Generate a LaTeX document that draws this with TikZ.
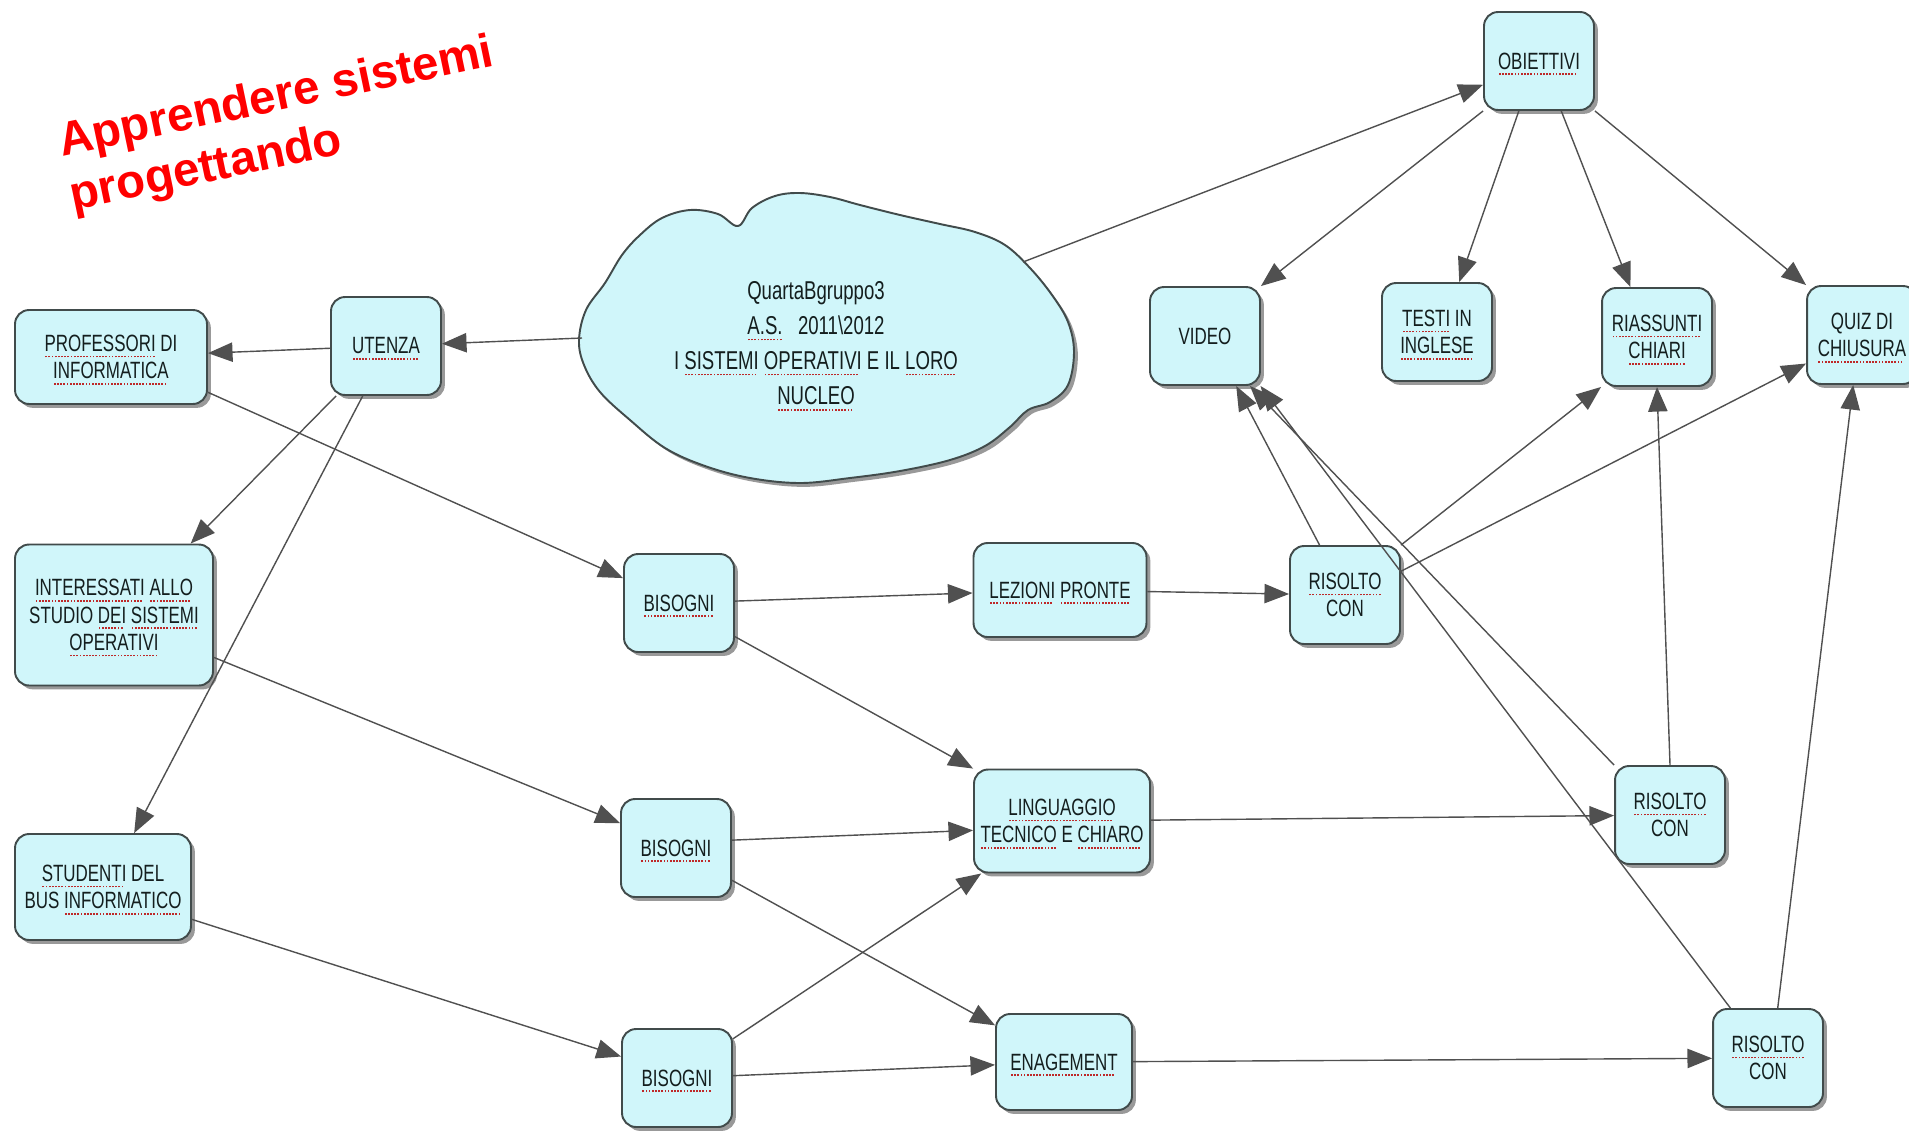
\documentclass[tikz,border=0pt]{standalone}
\usepackage{fontspec}
\usepackage{xcolor}
\usetikzlibrary{arrows.meta, shadows}

\newfontfamily\narrowfont[FakeStretch=0.72]{Liberation Sans}
\newfontfamily\titlefont{Liberation Sans}

\definecolor{boxfill}{RGB}{208,246,250}
\definecolor{boxline}{RGB}{65,75,75}
\definecolor{linegray}{RGB}{80,80,80}
\definecolor{txtgray}{RGB}{20,30,30}
\definecolor{spellred}{RGB}{190,40,40}

% parola sottolineata a puntini rossi
\newcommand{\squig}[1]{\setbox0=\hbox{#1}\rlap{\copy0}\smash{\raisebox{-3.4pt}{\textcolor{spellred}{\leaders\hbox to 1.8pt{\hss\rule{1pt}{1pt}\hss}\hskip\wd0}}}}

\begin{document}
\begin{tikzpicture}[x=0.02cm, y=-0.02cm,
    box/.style={rectangle, rounded corners=8pt, draw=boxline, line width=1.1pt, fill=boxfill,
        drop shadow={shadow xshift=2.2pt, shadow yshift=-2.2pt, fill=gray!80, opacity=1},
        minimum width=2.2cm, minimum height=1.96cm, align=center, inner sep=2pt,
        text=txtgray, font=\narrowfont\fontsize{13.4}{15.5}\selectfont},
    link/.style={draw=linegray, line width=0.8pt, -{Triangle[length=14pt, width=11pt]}}]
    \path[use as bounding box, clip] (0,0) rectangle (1909,1130);

    % 1. Titolo
    \node[text=red, rotate=11.8, align=left, inner sep=0pt,
        font=\titlefont\bfseries\fontsize{27}{31.6}\selectfont] (titolo) at (282,126)
        {Apprendere sistemi\\progettando};

    % 2. Nuvola centrale
    \draw[draw=boxline, line width=1.1pt, fill=boxfill,
        drop shadow={shadow xshift=2.2pt, shadow yshift=-2.2pt, fill=gray!80, opacity=1}]
        plot[smooth cycle, tension=0.6] coordinates {
        (579,340) (586,310) (605,283) (622,255) (640,235) (662,218) (690,210) (718,214)
        (738,226) (752,208) (775,196) (800,193) (830,197) (860,205) (900,215) (940,224)
        (975,232) (1005,245) (1030,268) (1052,295) (1068,322) (1074,352) (1068,385)
        (1050,402) (1028,410) (1010,427) (985,446) (950,460) (900,471) (850,478)
        (800,483) (750,478) (705,466) (665,448) (630,420) (600,392) (584,365)};
    \node[align=center, text=txtgray, font=\narrowfont\fontsize{14.7}{20}\selectfont]
        (nucleo) at (816,343)
        {QuartaBgruppo3\\\squig{A.S.}\ \ \ 2011\textbackslash 2012\\
         I \squig{SISTEMI} \squig{OPERATIVI} E IL \squig{LORO}\\\squig{NUCLEO}};
    \coordinate (nucleo-w) at (582,338);
    \coordinate (nucleo-ne) at (1023,262);

    % 3. Utenza
    \node[box] (utenza) at (386,346) {\squig{UTENZA}};
    \node[box, minimum width=3.84cm, minimum height=1.88cm] (prof) at (111,357)
        {\squig{PROFESSORI} DI\\\squig{INFORMATICA}};
    \node[box, minimum width=3.96cm, minimum height=2.82cm] (inter) at (114,615)
        {\squig{INTERESSATI} \squig{ALLO}\\STUDIO \squig{DEI} \squig{SISTEMI}\\\squig{OPERATIVI}};
    \node[box, minimum width=3.52cm, minimum height=2.12cm] (stud) at (103,887)
        {\squig{STUDENTI} DEL\\BUS \squig{INFORMATICO}};

    % 4. Bisogni
    \node[box] (bis1) at (679,603) {\squig{BISOGNI}};
    \node[box] (bis2) at (676,848) {\squig{BISOGNI}};
    \node[box] (bis3) at (677,1078) {\squig{BISOGNI}};
    \node[box, minimum width=3.46cm, minimum height=1.88cm] (lez) at (1060,590)
        {\squig{LEZIONI} \squig{PRONTE}};
    \node[box, minimum width=3.52cm, minimum height=2.06cm] (ling) at (1062,821)
        {\squig{LINGUAGGIO}\\\squig{TECNICO} E \squig{CHIARO}};
    \node[box, minimum width=2.72cm, minimum height=1.92cm] (enag) at (1064,1062)
        {\squig{ENAGEMENT}};

    % 5. Risolto con
    \node[box] (ris1) at (1345,595) {\squig{RISOLTO}\\CON};
    \node[box] (ris2) at (1670,815) {\squig{RISOLTO}\\CON};
    \node[box] (ris3) at (1768,1058) {\squig{RISOLTO}\\CON};

    % 6. Obiettivi
    \node[box] (obi) at (1539,61) {\squig{OBIETTIVI}};
    \node[box] (video) at (1205,336) {VIDEO};
    \node[box] (testi) at (1437,332) {\squig{TESTI} IN\\\squig{INGLESE}};
    \node[box] (riass) at (1657,337) {\squig{RIASSUNTI}\\\squig{CHIARI}};
    \node[box] (quiz) at (1862,335) {QUIZ DI\\\squig{CHIUSURA}};

    % 7. Collegamenti
    \foreach \a/\b in {nucleo-w/utenza, utenza/prof, utenza.225/inter.43, utenza.245/stud.60,
        prof.340/bis1.156, inter.337/bis2.156, stud.340/bis3.159,
        bis1/lez, bis1.329/ling.north west, bis2.8/ling.186, bis2.330/enag.152,
        bis3.35/ling.213, bis3/enag, lez/ris1, ling/ris2, enag/ris3,
        nucleo-ne/obi.203, obi.south west/video.north east, obi.248/testi.66,
        obi.294/riass.118, obi.south east/quiz.north west,
        ris1.117/video.302, ris1.north east/riass.south west, ris1.23/quiz.207,
        ris2.north west/video.312, ris2.north/riass.south,
        ris3.127/video.318, ris3.79/quiz.260} {
        \draw[link] (\a) -- (\b);
    }
\end{tikzpicture}
\end{document}
